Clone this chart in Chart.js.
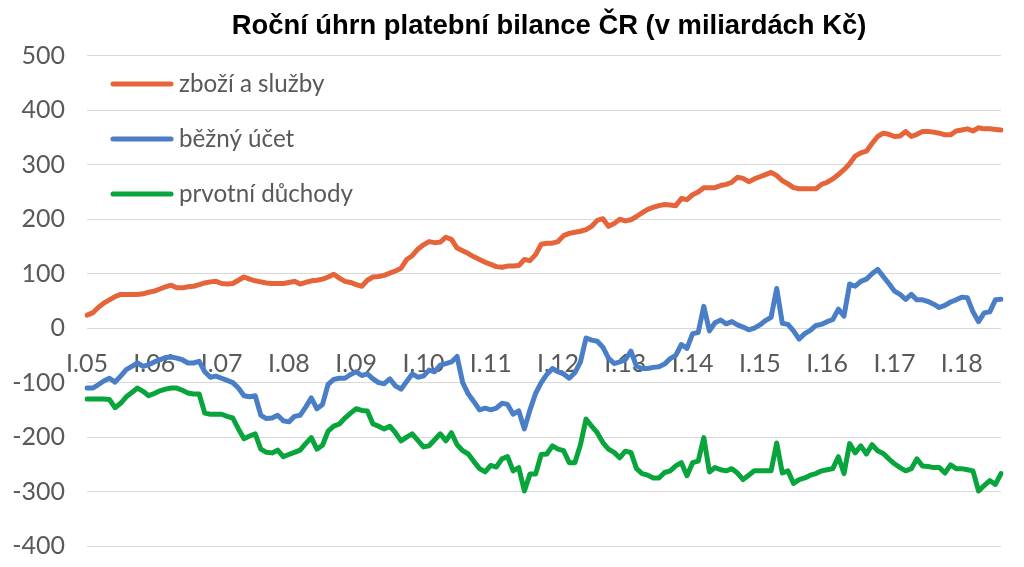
<!DOCTYPE html>
<html>
<head>
<meta charset="utf-8">
<script src="https://cdn.jsdelivr.net/npm/chart.js@4.4.0/dist/chart.umd.min.js"></script>
<style>
  html, body { margin: 0; padding: 0; background: #fff; }
  #wrap { width: 1024px; height: 567px; }
</style>
</head>
<body>
<div id="wrap"><canvas id="bilance"></canvas></div>
<script>
const romanMonths = ['I', 'II', 'III', 'IV', 'V', 'VI', 'VII', 'VIII', 'IX', 'X', 'XI', 'XII'];
const years = ['05', '06', '07', '08', '09', '10', '11', '12', '13', '14', '15', '16', '17', '18'];
const monthCount = 164; // I.05 .. VIII.18

const seriesNames = ['zboží a služby', 'běžný účet', 'prvotní důchody'];
const seriesColors = ['#E5643A', '#4A7EC7', '#08A43C'];

// zboží a služby
const zboziSluzby = [
  24, 28, 38, 46, 52, 58, 62, 62, 62, 62, 63, 66,
  68, 72, 76, 79, 74, 74, 76, 77, 80, 83, 85, 86,
  82, 81, 82, 88, 94, 90, 87, 85, 83, 82, 82, 82,
  84, 86, 81, 84, 87, 88, 90, 94, 99, 92, 86, 84,
  80, 77, 88, 94, 95, 97, 101, 105, 110, 126, 133, 145,
  153, 159, 157, 158, 167, 163, 147, 142, 137, 131, 126, 121,
  117, 113, 112, 114, 114, 115, 126, 124, 135, 154, 156, 156,
  159, 170, 174, 176, 178, 181, 187, 198, 201, 187, 192, 200,
  197, 199, 205, 212, 218, 222, 225, 227, 226, 225, 238, 236,
  245, 250, 258, 258, 258, 262, 264, 268, 277, 275, 269, 274,
  278, 282, 286, 280, 271, 265, 258, 256, 256, 256, 256, 264,
  268, 274, 282, 291, 302, 316, 322, 325, 339, 352, 358, 356,
  352, 353, 361, 352, 356, 361, 361, 360, 358, 355, 355, 362,
  364, 366, 362, 368, 366, 366, 365, 364
];

// běžný účet
const beznyUcet = [
  -110, -110, -104, -97, -92, -99, -88, -76, -70, -64, -70, -67,
  -62, -58, -54, -53, -55, -58, -64, -64, -61, -80, -90, -88,
  -92, -96, -100, -110, -124, -126, -124, -160, -166, -165, -160, -170,
  -172, -162, -160, -145, -128, -148, -140, -103, -94, -92, -92, -85,
  -80, -87, -84, -93, -100, -102, -93, -106, -112, -98, -84, -90,
  -88, -77, -80, -68, -65, -62, -52, -100, -121, -135, -150, -147,
  -150, -147, -138, -140, -158, -152, -185, -150, -120, -100, -85, -74,
  -80, -84, -92, -82, -62, -18, -22, -24, -35, -55, -65, -62,
  -58, -42, -70, -74, -74, -72, -71, -66, -56, -50, -30, -37,
  -10, -8, 40, -5, 10, 15, 8, 12, 6, 2, -3, 0,
  6, 14, 20, 73, 9, 7, -5, -20, -10, -4, 5, 7,
  12, 16, 35, 22, 81, 77, 86, 90, 100, 108, 95, 82,
  68, 62, 53, 62, 52, 52, 49, 44, 38, 42, 48, 52,
  57, 56, 30, 12, 28, 30, 52, 53
];

// prvotní důchody
const prvotniDuchody = [
  -130, -130, -130, -130, -131, -146, -138, -126, -118, -110, -116, -124,
  -120, -115, -112, -110, -110, -114, -119, -121, -121, -156, -158, -158,
  -158, -162, -165, -185, -203, -198, -194, -222, -228, -229, -224, -236,
  -232, -228, -224, -212, -201, -222, -215, -189, -180, -176, -165, -156,
  -148, -151, -152, -176, -180, -185, -180, -192, -207, -200, -194, -206,
  -218, -216, -205, -194, -207, -192, -214, -225, -231, -245, -258, -264,
  -252, -255, -240, -236, -262, -256, -299, -268, -268, -232, -231, -216,
  -222, -225, -247, -247, -214, -167, -180, -192, -210, -222, -228, -238,
  -226, -228, -258, -267, -270, -275, -275, -265, -262, -253, -247, -271,
  -247, -244, -201, -264, -256, -260, -262, -258, -266, -278, -270, -262,
  -262, -262, -262, -211, -266, -262, -285, -278, -275, -270, -267, -262,
  -260, -258, -236, -267, -212, -229, -216, -231, -214, -225, -230, -240,
  -249, -256, -262, -258, -240, -253, -254, -256, -256, -266, -251, -258,
  -258, -260, -262, -299, -289, -280, -287, -267
];

const labels = [];
years.forEach((y) => romanMonths.forEach((m) => labels.push(m + '.' + y)));
labels.length = monthCount;

const grayText = '#595959';
const textFont = 'Lato, "Liberation Sans", sans-serif';

// legenda uvnitř grafu (svislá, vlevo nahoře)
const insideLegend = {
  id: 'insideLegend',
  afterLayout(chart) {
    // titulek je v originále trochu vpravo od středu plochy grafu
    if (chart.titleBlock) chart.titleBlock.left += 10;
  },
  afterDraw(chart) {
    const { ctx, chartArea } = chart;
    ctx.save();
    ctx.font = '24.2px ' + textFont;
    ctx.textBaseline = 'middle';
    ctx.textAlign = 'left';
    chart.data.datasets.forEach((ds, i) => {
      const y = chartArea.top + 28 + i * 55;
      ctx.strokeStyle = ds.borderColor;
      ctx.lineWidth = 5;
      ctx.lineCap = 'round';
      ctx.beginPath();
      ctx.moveTo(chartArea.left + 26, y);
      ctx.lineTo(chartArea.left + 84, y);
      ctx.stroke();
      ctx.fillStyle = grayText;
      ctx.fillText(ds.label, chartArea.left + 92, y);
    });
    ctx.restore();
  }
};

const makeDataset = (i, data) => ({
  label: seriesNames[i],
  data: data,
  borderColor: seriesColors[i],
  backgroundColor: seriesColors[i],
  borderWidth: 5,
  pointRadius: 0,
  tension: 0,
  borderJoinStyle: 'round',
  borderCapStyle: 'round',
  fill: false
});

new Chart(document.getElementById('bilance'), {
  type: 'line',
  data: {
    labels: labels,
    datasets: [
      makeDataset(0, zboziSluzby),
      makeDataset(1, beznyUcet),
      makeDataset(2, prvotniDuchody)
    ]
  },
  options: {
    responsive: true,
    maintainAspectRatio: false,
    animation: false,
    layout: { padding: { left: 0, right: 23, top: 0, bottom: 21 } },
    plugins: {
      legend: { display: false },
      tooltip: { enabled: false },
      title: {
        display: true,
        text: 'Roční úhrn platební bilance ČR (v miliardách Kč)',
        color: '#000',
        fullSize: false,
        font: { family: '"Liberation Sans", Arial, sans-serif', size: 27.4, weight: 'bold' },
        padding: { top: 10, bottom: 13 }
      }
    },
    scales: {
      x: {
        type: 'category',
        position: { y: 0 },
        grid: { display: false, drawTicks: false },
        border: { display: false },
        ticks: {
          autoSkip: false,
          maxRotation: 0,
          padding: 21,
          color: grayText,
          font: { family: textFont, size: 25 },
          callback: function (value, index) {
            const lab = this.getLabelForValue(value);
            return lab.startsWith('I.') ? lab : null;
          }
        }
      },
      y: {
        min: -400,
        max: 500,
        afterFit: (scale) => {
          scale.width = 87;
          scale.paddingTop = 0;
          scale.paddingBottom = 0;
        },
        grid: { color: '#d9d9d9', lineWidth: 1, drawTicks: false },
        border: { display: false },
        ticks: {
          stepSize: 100,
          padding: 22,
          color: grayText,
          font: { family: textFont, size: 25 }
        }
      }
    }
  },
  plugins: [insideLegend]
});
</script>
</body>
</html>
